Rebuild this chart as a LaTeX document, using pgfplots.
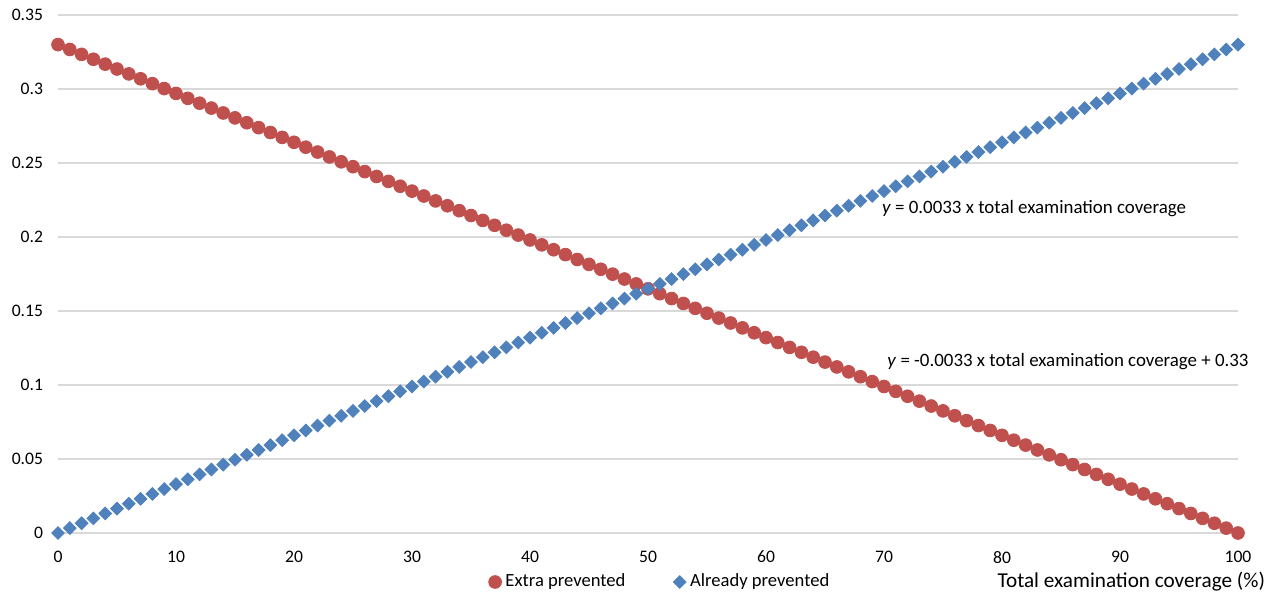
\documentclass[border=0pt]{standalone}
\usepackage{fontspec}
\setmainfont{Carlito}
\usepackage{pgfplots}
\usepackage{pgfplotstable}
\pgfplotsset{compat=1.18}
\definecolor{cred}{HTML}{C0504D}
\definecolor{cblue}{HTML}{4F81BD}
\definecolor{cgrid}{HTML}{D9D9D9}
\definecolor{ctrend}{HTML}{C9C6DA}
\pgfplotstableread{
x extra already
0 0.33 0
1 0.3267 0.0033
2 0.3234 0.0066
3 0.3201 0.0099
4 0.3168 0.0132
5 0.3135 0.0165
6 0.3102 0.0198
7 0.3069 0.0231
8 0.3036 0.0264
9 0.3003 0.0297
10 0.297 0.033
11 0.2937 0.0363
12 0.2904 0.0396
13 0.2871 0.0429
14 0.2838 0.0462
15 0.2805 0.0495
16 0.2772 0.0528
17 0.2739 0.0561
18 0.2706 0.0594
19 0.2673 0.0627
20 0.264 0.066
21 0.2607 0.0693
22 0.2574 0.0726
23 0.2541 0.0759
24 0.2508 0.0792
25 0.2475 0.0825
26 0.2442 0.0858
27 0.2409 0.0891
28 0.2376 0.0924
29 0.2343 0.0957
30 0.231 0.099
31 0.2277 0.1023
32 0.2244 0.1056
33 0.2211 0.1089
34 0.2178 0.1122
35 0.2145 0.1155
36 0.2112 0.1188
37 0.2079 0.1221
38 0.2046 0.1254
39 0.2013 0.1287
40 0.198 0.132
41 0.1947 0.1353
42 0.1914 0.1386
43 0.1881 0.1419
44 0.1848 0.1452
45 0.1815 0.1485
46 0.1782 0.1518
47 0.1749 0.1551
48 0.1716 0.1584
49 0.1683 0.1617
50 0.165 0.165
51 0.1617 0.1683
52 0.1584 0.1716
53 0.1551 0.1749
54 0.1518 0.1782
55 0.1485 0.1815
56 0.1452 0.1848
57 0.1419 0.1881
58 0.1386 0.1914
59 0.1353 0.1947
60 0.132 0.198
61 0.1287 0.2013
62 0.1254 0.2046
63 0.1221 0.2079
64 0.1188 0.2112
65 0.1155 0.2145
66 0.1122 0.2178
67 0.1089 0.2211
68 0.1056 0.2244
69 0.1023 0.2277
70 0.099 0.231
71 0.0957 0.2343
72 0.0924 0.2376
73 0.0891 0.2409
74 0.0858 0.2442
75 0.0825 0.2475
76 0.0792 0.2508
77 0.0759 0.2541
78 0.0726 0.2574
79 0.0693 0.2607
80 0.066 0.264
81 0.0627 0.2673
82 0.0594 0.2706
83 0.0561 0.2739
84 0.0528 0.2772
85 0.0495 0.2805
86 0.0462 0.2838
87 0.0429 0.2871
88 0.0396 0.2904
89 0.0363 0.2937
90 0.033 0.297
91 0.0297 0.3003
92 0.0264 0.3036
93 0.0231 0.3069
94 0.0198 0.3102
95 0.0165 0.3135
96 0.0132 0.3168
97 0.0099 0.3201
98 0.0066 0.3234
99 0.0033 0.3267
100 0 0.33
}\datatable
\begin{document}
\begin{tikzpicture}
\begin{axis}[
  name=ax,
  scale only axis,
  width=590bp, height=259bp,
  xmin=0, xmax=100, ymin=0, ymax=0.35,
  xtick={0,10,...,100},
  ytick={0,0.05,0.1,0.15,0.2,0.25,0.3,0.35},
  scaled y ticks=false,
  yticklabel style={/pgf/number format/fixed, /pgf/number format/precision=2, xshift=-4bp},
  xticklabel style={yshift=-5.5bp},
  /pgf/number format/assume math mode=true,
  ticklabel style={font=\fontsize{8.8bp}{10.5bp}\selectfont, text=black},
  axis line style={draw=none},
  major tick length=0pt,
  ymajorgrids,
  grid style={cgrid, line width=0.8bp},
  xlabel={Total examination coverage (\%)},
  xlabel style={at={(rel axis cs:1,0)}, anchor=east, xshift=17bp, yshift=-24.5bp, font=\fontsize{10.6bp}{12bp}\selectfont},
  legend columns=2,
  legend style={at={(rel axis cs:0.511,0)}, anchor=center, yshift=-24.5bp, draw=none, fill=none,
    font=\fontsize{9.3bp}{11bp}\selectfont,
    /tikz/every even column/.append style={column sep=22bp}},
  legend cell align=left,
  clip=false,
]
\addplot[only marks, mark=*, mark size=3.2bp, mark options={draw=cred, fill=cred}] table[x=x, y=extra] {\datatable};
\addlegendentry{Extra prevented}
\addplot[only marks, mark=square*, mark size=2.25bp, mark options={draw=cblue, fill=cblue, rotate=45}] table[x=x, y=already] {\datatable};
\addlegendentry{Already prevented}
\addplot[no marks, ctrend, line width=0.5bp, dash pattern=on 1.5bp off 1bp, forget plot] table[x=x, y=extra] {\datatable};
\node[anchor=west, font=\fontsize{9.45bp}{11bp}\selectfont, inner sep=0pt] at (axis cs:69.8,0.219) {\textit{y} = 0.0033 x total examination coverage};
\node[anchor=west, font=\fontsize{9.45bp}{11bp}\selectfont, inner sep=0pt] at (axis cs:70.25,0.1155) {\textit{y} = -0.0033 x total examination coverage + 0.33};
\end{axis}
\pgfresetboundingbox
\path[use as bounding box] ([xshift=-29bp,yshift=-32bp]ax.south west) rectangle ([xshift=16.5bp,yshift=7.5bp]ax.north east);
\end{tikzpicture}
\end{document}
